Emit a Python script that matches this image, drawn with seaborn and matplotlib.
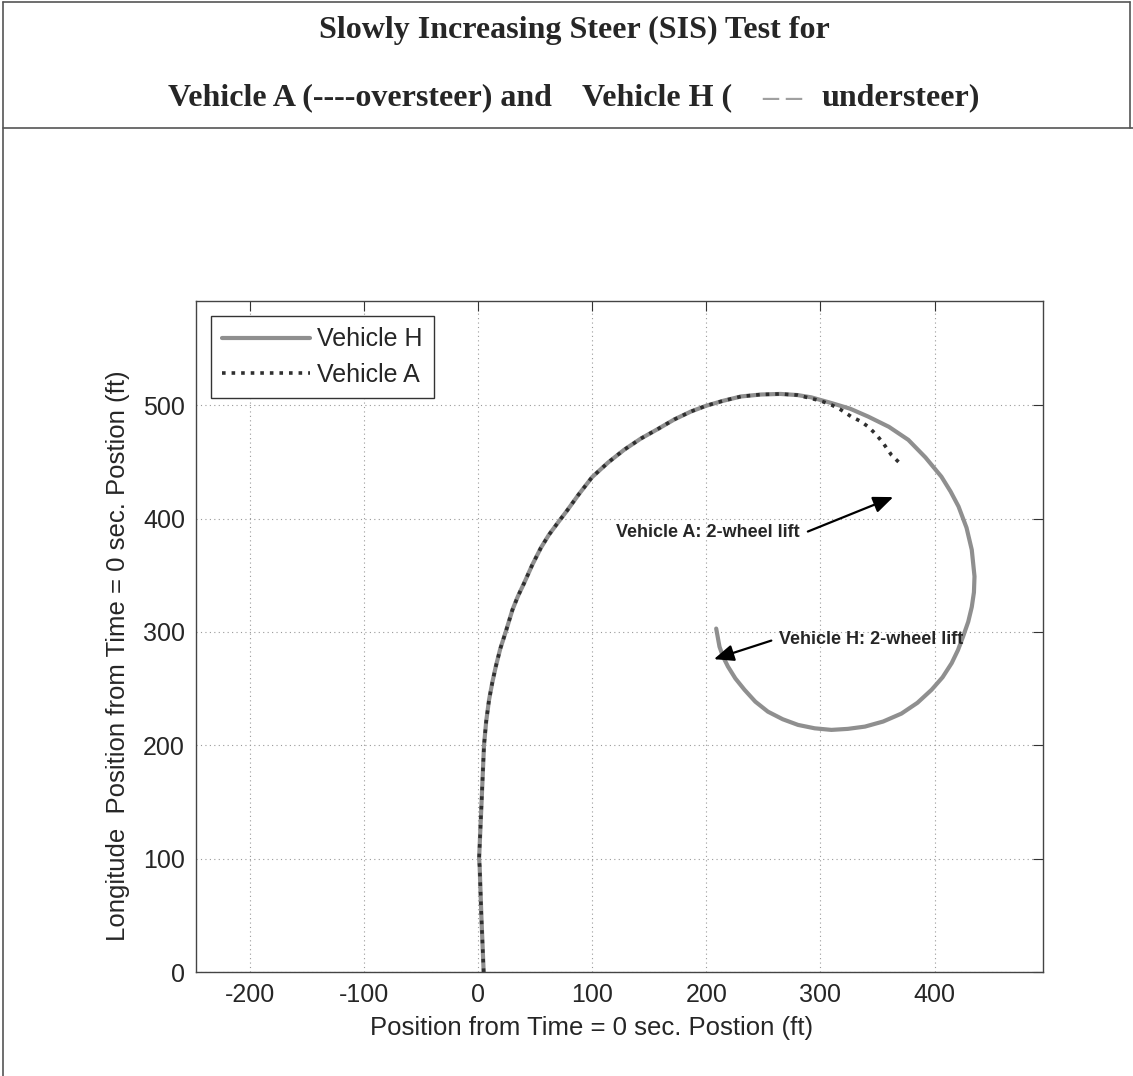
"""
Slowly Increasing Steer (SIS) test: vehicle path of Vehicle H vs Vehicle A.
"""

import matplotlib
matplotlib.use("Agg")

import matplotlib.pyplot as plt
import seaborn as sns
from matplotlib.lines import Line2D

# --- data (ft) ---
# common part of the path (both vehicles follow it up to about x = 300)
path_x = [5, 3, 1.5, 1, 3, 5.3, 7.2, 9.7, 12.5, 15.5, 19.5, 24.3, 30.2, 35,
          40.4, 47.5, 55, 62, 69.7, 78, 88, 100, 114, 128, 142.5, 157.5, 172,
          186.6, 200, 215, 230.6, 248, 265, 280, 292]
path_y = [0, 49, 93, 100, 146, 200, 221, 240, 255, 269, 285, 300, 319.5, 331.5,
          343, 359, 374, 385.5, 396, 407, 421, 436.6, 449.5, 460.7, 470.5, 479,
          487.5, 494.5, 499.6, 504, 507.8, 509.5, 510, 509, 507]

# Vehicle H carries on round the loop
loop_h_x = [309.5, 326, 341.9, 360, 377, 392, 406, 414, 421, 428, 432.6, 435,
            434.5, 432.6, 429.5, 425, 420.5, 415, 407, 397.4, 385, 371, 355,
            339, 324, 309.6, 295, 280.4, 267, 254, 243, 233.5, 225.5, 219,
            214.8, 211.6, 208.7]
loop_h_y = [502, 497, 490, 481, 469.5, 454, 437, 424, 410.7, 392, 372.5, 349,
            335, 322, 309, 296, 284, 272.5, 260, 249, 237.5, 228, 221, 216.5,
            214.5, 213.6, 215, 218, 223, 229.7, 238.5, 249, 259, 269.5, 278,
            287, 303]

# Vehicle A turns in tighter and stops (2-wheel lift)
tail_a_x = [300, 309.6, 318, 327, 335, 342, 349, 355, 362.3, 370.5]
tail_a_y = [504, 500.4, 496, 490, 486, 481, 474, 466.6, 456, 448]

veh_h_x = path_x + loop_h_x
veh_h_y = path_y + loop_h_y
veh_a_x = path_x[:-1] + tail_a_x
veh_a_y = path_y[:-1] + tail_a_y

x_ticks = [-200, -100, 0, 100, 200, 300, 400]
y_ticks = [0, 100, 200, 300, 400, 500]

sns.set_style("white")
plt.rcParams["font.family"] = ["Liberation Sans", "DejaVu Sans"]
plt.rcParams["axes.unicode_minus"] = False

W, H = 1133, 1076
fig = plt.figure(figsize=(W / 100, H / 100), dpi=100)
ax = fig.add_axes([196 / W, 1 - 972 / H, (1043 - 196) / W, (972 - 301) / H])

sns.lineplot(x=veh_h_x, y=veh_h_y, sort=False, estimator=None, ax=ax,
             color="#8f8f8f", linewidth=3.0, label="Vehicle H")
sns.lineplot(x=veh_a_x, y=veh_a_y, sort=False, estimator=None, ax=ax,
             color="#2f2f2f", linewidth=2.6, linestyle=":", label="Vehicle A")

ax.set_xlim(-247, 495)
ax.set_ylim(0, 592)
ax.set_xticks(x_ticks)
ax.set_yticks(y_ticks)
ax.grid(True, color="#9a9a9a", linestyle=(0, (1, 3)), linewidth=0.8)
ax.tick_params(direction="in", length=7, top=True, right=True,
               labelsize=18, pad=8, color="#333333")
for s in ax.spines.values():
    s.set_color("#444444")
    s.set_linewidth(1.0)

ax.set_xlabel("Position from Time = 0 sec. Postion (ft)", fontsize=18.5, labelpad=7)
ax.xaxis.set_label_coords(0.4675, -0.065)
ax.set_ylabel("Longitude  Position from Time = 0 sec. Postion (ft)",
              fontsize=18.5, labelpad=10)
ax.yaxis.set_label_coords(-0.078, 0.472)

leg = ax.legend(loc="upper left", fontsize=18, handlelength=3.5,
                fancybox=False, framealpha=1, edgecolor="#333333",
                borderaxespad=0.6, handletextpad=0.3, labelspacing=0.45,
                borderpad=0.45)
leg.get_frame().set_linewidth(1.0)

# annotations
arrow = dict(arrowstyle="-|>,head_length=0.6,head_width=0.25", color="black",
             lw=1.6, shrinkA=0, shrinkB=0, mutation_scale=20)
ax.annotate("", xy=(363.8, 419), xytext=(289, 388.6), arrowprops=arrow)
ax.text(121, 387.5, "Vehicle A: 2-wheel lift", fontsize=13, fontweight="bold",
        ha="left", va="center")
ax.annotate("", xy=(206.7, 276), xytext=(257, 292.4), arrowprops=arrow)
ax.text(264, 293, "Vehicle H: 2-wheel lift", fontsize=13, fontweight="bold",
        ha="left", va="center")

# title block
serif = ["Liberation Serif", "DejaVu Serif"]
fig.text(574 / W, 1 - 30 / H, "Slowly Increasing Steer (SIS) Test for",
         fontsize=23, fontweight="bold", family=serif, ha="center", va="center")
y2 = 1 - 98 / H
fig.text(168 / W, y2, "Vehicle A (----oversteer) and",
         fontsize=23, fontweight="bold", family=serif, ha="left", va="center")
fig.text(582 / W, y2, "Vehicle H (",
         fontsize=23, fontweight="bold", family=serif, ha="left", va="center")
fig.text(762 / W, y2, "\u2013 \u2013", fontsize=23, fontweight="bold",
         family=serif, color="#a0a0a0", ha="left", va="center")
fig.text(980 / W, y2, "understeer)", fontsize=23, fontweight="bold",
         family=serif, ha="right", va="center")

# frame lines around the figure
lc = "#555555"
fig.add_artist(Line2D([3 / W, 3 / W], [0, 1 - 2 / H], color=lc, lw=1.2))
fig.add_artist(Line2D([3 / W, 1130 / W], [1 - 2 / H, 1 - 2 / H], color=lc, lw=1.2))
fig.add_artist(Line2D([1130 / W, 1130 / W], [1 - 2 / H, 1 - 128 / H], color=lc, lw=1.2))
fig.add_artist(Line2D([3 / W, 1], [1 - 128 / H, 1 - 128 / H], color=lc, lw=1.2))

plt.savefig("out.png", dpi=100, facecolor="white")
plt.close()
